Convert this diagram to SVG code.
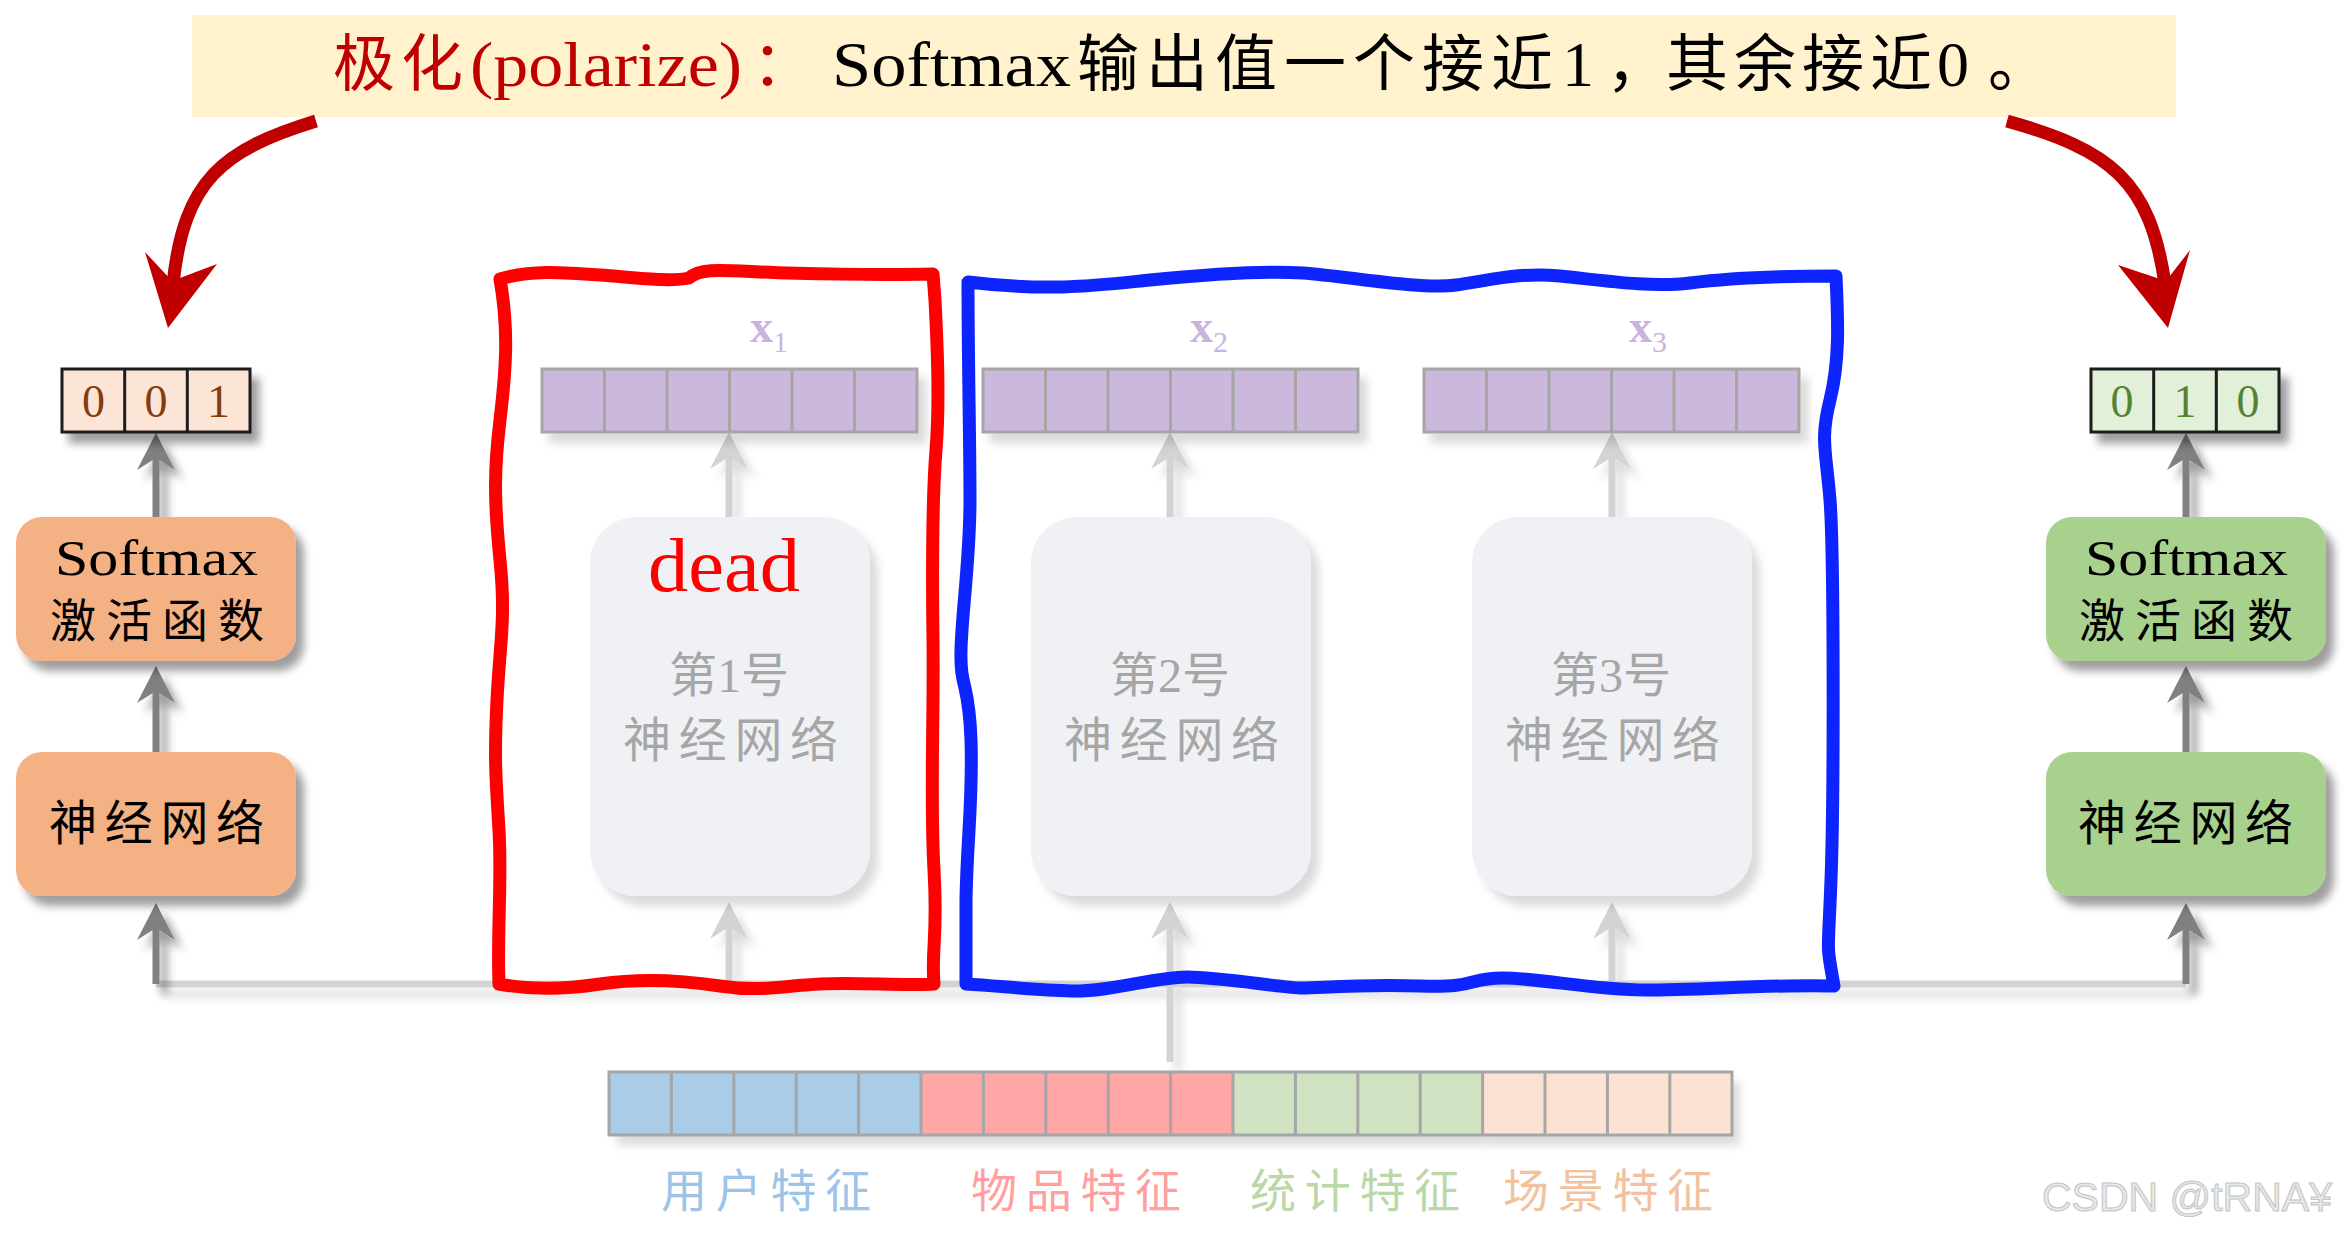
<svg xmlns="http://www.w3.org/2000/svg" width="2350" height="1236" viewBox="0 0 2350 1236">
<style>
.cjk{font-family:"Noto Sans CJK SC","Noto Sans",sans-serif}
.ser{font-family:"Liberation Serif","Noto Sans CJK SC",serif}
.bar{stroke:#A6A6A6;stroke-width:3}
.pur{fill:#CDB8DD}
.grid{stroke:#A6A6A6;stroke-width:3}
.dk{stroke:#808080;stroke-width:7;fill:none}
.lt{stroke:#D3D3D3;stroke-width:7;fill:none}
.hand{fill:none;stroke-width:13;stroke-linejoin:round;stroke-linecap:round}
.cell{stroke:#1a1a1a;stroke-width:3}
.xl{font-family:"Liberation Serif",serif;fill:#C8B4DC}
</style>
<defs>
<filter id="sh" filterUnits="userSpaceOnUse" x="0" y="0" width="2350" height="1236"><feDropShadow dx="8" dy="10" stdDeviation="4" flood-color="#000" flood-opacity="0.38"/></filter>
<filter id="shl" filterUnits="userSpaceOnUse" x="0" y="0" width="2350" height="1236"><feDropShadow dx="8" dy="10" stdDeviation="4" flood-color="#000" flood-opacity="0.14"/></filter>
<marker id="ad" markerUnits="userSpaceOnUse" markerWidth="40" markerHeight="40" viewBox="0 -20 40 40" refX="12" refY="0" orient="auto"><path d="M0,-19 L37,0 L0,19 L12,0 Z" fill="#808080"/></marker>
<marker id="al" markerUnits="userSpaceOnUse" markerWidth="40" markerHeight="40" viewBox="0 -20 40 40" refX="12" refY="0" orient="auto"><path d="M0,-19 L37,0 L0,19 L12,0 Z" fill="#D3D3D3"/></marker>
</defs>
<rect width="2350" height="1236" fill="#fff"/>

<g id="title">
<rect x="192" y="15" width="1984" height="102" fill="#FFF2CC"/>
<text class="cjk" x="333" y="86" font-size="62" letter-spacing="6" fill="#C00000">极化</text>
<text class="ser" x="470" y="86" font-size="64" textLength="272" lengthAdjust="spacingAndGlyphs" fill="#C00000">(polarize)</text>
<text class="cjk" x="752" y="86" font-size="62" fill="#C00000">：</text>
<text class="ser" x="832" y="86" font-size="64" textLength="239" lengthAdjust="spacingAndGlyphs" fill="#000">Softmax</text>
<text class="cjk" x="1077" y="86" font-size="62" letter-spacing="7" fill="#000">输出值一个接近</text>
<text class="ser" x="1562" y="86" font-size="64" fill="#000">1</text>
<text class="cjk" x="1606" y="86" font-size="62" fill="#000">，</text>
<text class="cjk" x="1666" y="86" font-size="62" letter-spacing="6" fill="#000">其余接近</text>
<text class="ser" x="1937" y="86" font-size="64" fill="#000">0</text>
<text class="cjk" x="1988" y="86" font-size="62" fill="#000">。</text>
</g>

<g id="polar-arrows" fill="#C00000">
<path d="M316,121 C222,150 184,180 173,284" fill="none" stroke="#C00000" stroke-width="13"/>
<polygon points="168,328 145,252 172,281 217,264"/>
<path d="M2007,121 C2110,150 2150,180 2165,284" fill="none" stroke="#C00000" stroke-width="13"/>
<polygon points="2168,328 2118,265 2166,281 2190,250"/>
</g>

<g id="connectors">
<g filter="url(#shl)">
<path class="lt" d="M156,984 L2186,984"/>
<path class="lt" d="M729,984 L729,927" marker-end="url(#al)"/>
<path class="lt" d="M1170,1062 L1170,927" marker-end="url(#al)"/>
<path class="lt" d="M1612,984 L1612,927" marker-end="url(#al)"/>
<path class="lt" d="M729,517 L729,457" marker-end="url(#al)"/>
<path class="lt" d="M1170,517 L1170,457" marker-end="url(#al)"/>
<path class="lt" d="M1612,517 L1612,457" marker-end="url(#al)"/>
</g>
<g filter="url(#sh)">
<path class="dk" d="M156,984 L156,928" marker-end="url(#ad)"/>
<path class="dk" d="M156,752 L156,691" marker-end="url(#ad)"/>
<path class="dk" d="M156,517 L156,458" marker-end="url(#ad)"/>
<path class="dk" d="M2186,984 L2186,928" marker-end="url(#ad)"/>
<path class="dk" d="M2186,752 L2186,691" marker-end="url(#ad)"/>
<path class="dk" d="M2186,517 L2186,458" marker-end="url(#ad)"/>
</g>
</g>

<g id="out-left" filter="url(#sh)">
<rect class="cell" x="62" y="369" width="188" height="63" fill="#FCE4D6"/>
<line class="cell" x1="124.7" y1="369" x2="124.7" y2="432"/>
<line class="cell" x1="187.3" y1="369" x2="187.3" y2="432"/>
</g>
<g id="out-left-text" class="ser" font-size="46" fill="#843C0C" text-anchor="middle">
<text x="93.5" y="417">0</text><text x="156" y="417">0</text><text x="218.5" y="417">1</text>
</g>

<g id="out-right" filter="url(#sh)">
<rect class="cell" x="2091" y="369" width="188" height="63" fill="#E2F0D9"/>
<line class="cell" x1="2153.7" y1="369" x2="2153.7" y2="432"/>
<line class="cell" x1="2216.3" y1="369" x2="2216.3" y2="432"/>
</g>
<g id="out-right-text" class="ser" font-size="46" fill="#548235" text-anchor="middle">
<text x="2122" y="417">0</text><text x="2185" y="417">1</text><text x="2248" y="417">0</text>
</g>

<g id="softmax-left">
<rect x="16" y="517" width="280" height="144" rx="26" fill="#F4B183" filter="url(#sh)"/>
<text class="ser" x="55" y="575" font-size="50" textLength="203" lengthAdjust="spacingAndGlyphs">Softmax</text>
<text class="cjk" x="50" y="637" font-size="46" letter-spacing="10">激活函数</text>
</g>
<g id="nn-left">
<rect x="16" y="752" width="280" height="144" rx="26" fill="#F4B183" filter="url(#sh)"/>
<text class="cjk" x="49" y="840" font-size="48" letter-spacing="7.7">神经网络</text>
</g>
<g id="softmax-right">
<rect x="2046" y="517" width="280" height="144" rx="26" fill="#A9D18E" filter="url(#sh)"/>
<text class="ser" x="2085" y="575" font-size="50" textLength="203" lengthAdjust="spacingAndGlyphs">Softmax</text>
<text class="cjk" x="2079" y="637" font-size="46" letter-spacing="10">激活函数</text>
</g>
<g id="nn-right">
<rect x="2046" y="752" width="280" height="144" rx="26" fill="#A9D18E" filter="url(#sh)"/>
<text class="cjk" x="2078" y="840" font-size="48" letter-spacing="7.7">神经网络</text>
</g>

<g id="nn1">
<rect x="590" y="517" width="280" height="379" rx="46" fill="#F0F1F5" filter="url(#shl)"/>
<text class="ser" x="724" y="591" font-size="76" fill="#FF0000" text-anchor="middle" textLength="152" lengthAdjust="spacingAndGlyphs">dead</text>
<text class="cjk" x="669" y="692" font-size="48" fill="#A6A6A6">第<tspan class="ser">1</tspan>号</text>
<text class="cjk" x="623" y="757" font-size="48" letter-spacing="7.7" fill="#A6A6A6">神经网络</text>
</g>
<g id="nn2">
<rect x="1031" y="517" width="280" height="379" rx="46" fill="#F0F1F5" filter="url(#shl)"/>
<text class="cjk" x="1110" y="692" font-size="48" fill="#A6A6A6">第<tspan class="ser">2</tspan>号</text>
<text class="cjk" x="1064" y="757" font-size="48" letter-spacing="7.7" fill="#A6A6A6">神经网络</text>
</g>
<g id="nn3">
<rect x="1472" y="517" width="280" height="379" rx="46" fill="#F0F1F5" filter="url(#shl)"/>
<text class="cjk" x="1551" y="692" font-size="48" fill="#A6A6A6">第<tspan class="ser">3</tspan>号</text>
<text class="cjk" x="1505" y="757" font-size="48" letter-spacing="7.7" fill="#A6A6A6">神经网络</text>
</g>

<g id="x1">
<rect class="pur bar" x="542" y="369" width="375" height="63" filter="url(#shl)"/>
<path class="grid" d="M604.5,369V432M667,369V432M729.5,369V432M792,369V432M854.5,369V432"/>
<text class="xl" x="750" y="342" font-size="46" font-weight="bold">x<tspan font-size="30" font-weight="normal" dy="10">1</tspan></text>
</g>
<g id="x2">
<rect class="pur bar" x="983" y="369" width="375" height="63" filter="url(#shl)"/>
<path class="grid" d="M1045.5,369V432M1108,369V432M1170.5,369V432M1233,369V432M1295.5,369V432"/>
<text class="xl" x="1190" y="342" font-size="46" font-weight="bold">x<tspan font-size="30" font-weight="normal" dy="10">2</tspan></text>
</g>
<g id="x3">
<rect class="pur bar" x="1424" y="369" width="375" height="63" filter="url(#shl)"/>
<path class="grid" d="M1486.5,369V432M1549,369V432M1611.5,369V432M1674,369V432M1736.5,369V432"/>
<text class="xl" x="1629" y="342" font-size="46" font-weight="bold">x<tspan font-size="30" font-weight="normal" dy="10">3</tspan></text>
</g>

<g id="features">
<g filter="url(#shl)">
<rect x="609" y="1072" width="312" height="63" fill="#A9CCE9"/>
<rect x="921" y="1072" width="312" height="63" fill="#FFA6A6"/>
<rect x="1233" y="1072" width="249.6" height="63" fill="#CFE2C1"/>
<rect x="1482.6" y="1072" width="249.4" height="63" fill="#FBE2D3"/>
</g>
<rect x="609" y="1072" width="1123" height="63" fill="none" class="bar"/>
<path class="grid" d="M671.4,1072V1135M733.8,1072V1135M796.2,1072V1135M858.6,1072V1135M921,1072V1135M983.4,1072V1135M1045.8,1072V1135M1108.2,1072V1135M1170.6,1072V1135M1233,1072V1135M1295.4,1072V1135M1357.8,1072V1135M1420.2,1072V1135M1482.6,1072V1135M1545,1072V1135M1607.4,1072V1135M1669.8,1072V1135"/>
<text class="cjk" x="661" y="1207" font-size="46" letter-spacing="8.7" fill="#9DC3E6">用户特征</text>
<text class="cjk" x="971" y="1207" font-size="46" letter-spacing="8.7" fill="#FF9F9F">物品特征</text>
<text class="cjk" x="1250" y="1207" font-size="46" letter-spacing="8.7" fill="#BAD7A6">统计特征</text>
<text class="cjk" x="1503" y="1207" font-size="46" letter-spacing="8.7" fill="#F1C29F">场景特征</text>
</g>

<g id="dead-frame">
<path class="hand" stroke="#FF0000" d="M500,279 C530,270 560,272 600,275 S670,282 689,278 C700,268 720,270 760,272 S880,275 933,274 L935,300 C937,340 940,400 936,450 S932,560 933,640 S930,800 934,870 S931,950 934,984 C900,986 860,982 820,984 S760,992 720,986 S640,978 600,984 S530,990 499,984 C497,930 502,880 499,830 S494,760 497,700 S506,620 500,560 S494,470 500,420 S509,330 500,279 Z"/>
</g>
<g id="alive-frame">
<path class="hand" stroke="#0D24FF" d="M966,984 L966,900 C967,840 973,800 971,740 S960,690 961,650 S970,560 970,500 S968,360 968,282 C1050,292 1100,285 1150,280 S1260,270 1303,273 S1420,290 1456,285 S1520,272 1560,276 S1650,288 1690,283 S1780,276 1836,276 C1838,320 1840,360 1830,400 S1826,450 1830,500 S1834,800 1831,880 S1826,940 1834,986 C1780,984 1700,990 1646,990 S1540,978 1503,978 S1480,988 1420,986 S1320,988 1302,988 S1220,977 1187,977 S1110,992 1072,991 S1000,986 966,984 Z"/>
</g>

<text id="watermark" x="2042" y="1211" font-family="Liberation Sans,Arial,sans-serif" font-size="41" fill="#E8E8E8" stroke="#C4C4C4" stroke-width="1">CSDN @tRNA¥</text>
</svg>
